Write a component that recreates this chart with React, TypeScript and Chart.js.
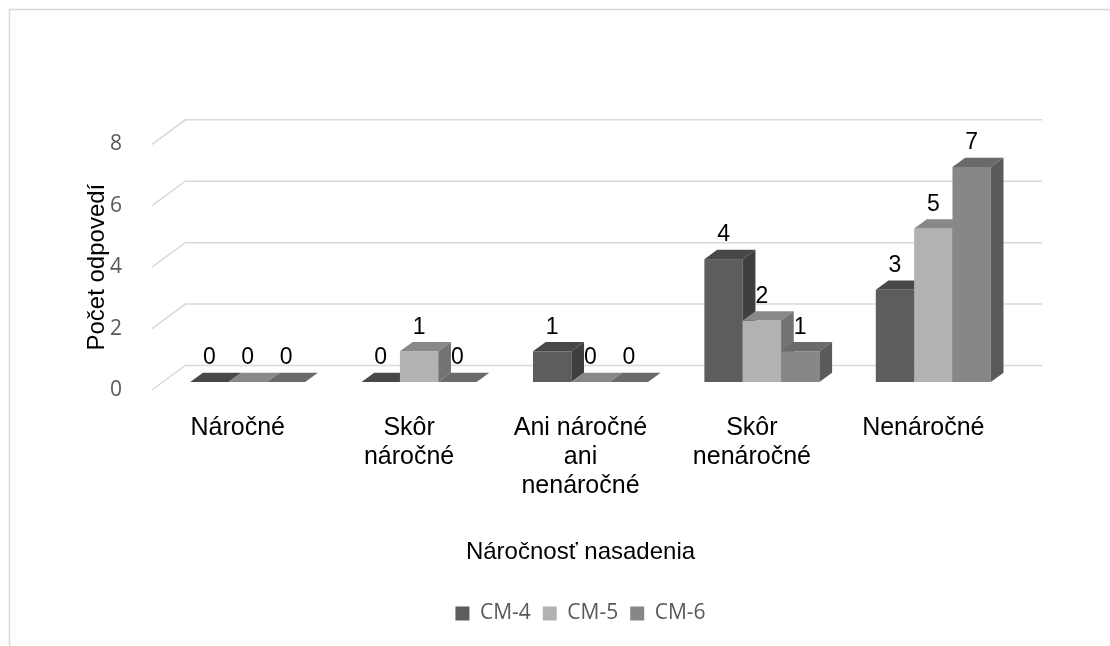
import React, { useEffect, useRef } from "react";
import { Chart, registerables } from "chart.js";

Chart.register(...registerables);

// ---- data ----
const categories: string[][] = [
  ["Náročné"],
  ["Skôr", "náročné"],
  ["Ani náročné", "ani", "nenáročné"],
  ["Skôr", "nenáročné"],
  ["Nenáročné"],
];
const seriesNames = ["CM-4", "CM-5", "CM-6"];
const cm4Values = [0, 0, 1, 4, 3];
const cm5Values = [0, 1, 0, 2, 5];
const cm6Values = [0, 0, 0, 1, 7];
const yMin = 0;
const yMax = 8;
const yStep = 2;
const xTitle = "Náročnosť nasadenia";
const yTitle = "Počet odpovedí";

// ---- styles ----
const frontColors = ["#5d5d5d", "#b2b2b2", "#878787"];
const topColors = ["#484848", "#888888", "#6a6a6a"];
const sideColors = ["#3f3f3f", "#737373", "#5a5a5a"];
const gridColor = "#d9d9d9";
const ARIAL = "'Liberation Sans', Arial, sans-serif";
const CALIBRI = "'Open Sans', 'Noto Sans', sans-serif";

const WALL_DX = 33.3;
const WALL_DY = -24.5;
const BAR_OFF_X = 10;
const BAR_OFF_Y = -8;
const BAR_DX = 12.7;
const BAR_DY = -9.3;

const threeDPlugin = {
  id: "threeD",
  beforeDraw(chart: any) {
    const ctx = chart.ctx;
    ctx.save();
    ctx.strokeStyle = gridColor;
    ctx.lineWidth = 1.5;
    ctx.beginPath();
    ctx.moveTo(9.5, chart.height + 5);
    ctx.lineTo(9.5, 9.5);
    ctx.lineTo(chart.width + 5, 9.5);
    ctx.stroke();
    ctx.restore();
  },
  beforeDatasetsDraw(chart: any) {
    const { ctx, chartArea, scales } = chart;
    const y = scales.y;
    ctx.save();
    // 3D gridlines (side wall diagonal + back wall)
    ctx.strokeStyle = gridColor;
    ctx.lineWidth = 1.5;
    y.ticks.forEach((t: any) => {
      const py = y.getPixelForValue(t.value);
      ctx.beginPath();
      ctx.moveTo(chartArea.left, py);
      ctx.lineTo(chartArea.left + WALL_DX, py + WALL_DY);
      ctx.lineTo(chartArea.right + WALL_DX, py + WALL_DY);
      ctx.stroke();
    });

    const metas = chart.getSortedVisibleDatasetMetas();
    const n = chart.data.labels.length;
    const labels: { x: number; y: number; text: string }[] = [];
    for (let i = 0; i < n; i++) {
      metas.forEach((meta: any) => {
        const el = meta.data[i];
        if (!el) return;
        const p = el.getProps(["x", "y", "base", "width"], true);
        const di = meta.index;
        const x0 = p.x - p.width / 2 + BAR_OFF_X;
        const x1 = p.x + p.width / 2 + BAR_OFF_X;
        const yt = Math.min(p.y, p.base) + BAR_OFF_Y;
        const yb = Math.max(p.y, p.base) + BAR_OFF_Y;
        // front
        ctx.fillStyle = frontColors[di];
        ctx.fillRect(x0, yt, x1 - x0, yb - yt);
        // top
        ctx.fillStyle = topColors[di];
        ctx.beginPath();
        ctx.moveTo(x0, yt);
        ctx.lineTo(x1, yt);
        ctx.lineTo(x1 + BAR_DX, yt + BAR_DY);
        ctx.lineTo(x0 + BAR_DX, yt + BAR_DY);
        ctx.closePath();
        ctx.fill();
        // side
        ctx.fillStyle = sideColors[di];
        ctx.beginPath();
        ctx.moveTo(x1, yt);
        ctx.lineTo(x1 + BAR_DX, yt + BAR_DY);
        ctx.lineTo(x1 + BAR_DX, yb + BAR_DY);
        ctx.lineTo(x1, yb);
        ctx.closePath();
        ctx.fill();
        const v = chart.data.datasets[di].data[i];
        labels.push({ x: (x0 + x1) / 2, y: yt - 24, text: String(v) });
      });
    }
    ctx.fillStyle = "#000000";
    ctx.font = `23px ${ARIAL}`;
    ctx.textAlign = "center";
    ctx.textBaseline = "middle";
    labels.forEach((l) => ctx.fillText(l.text, l.x, l.y));
    ctx.restore();
    return false;
  },
};

export default function App() {
  const canvasRef = useRef<HTMLCanvasElement | null>(null);

  useEffect(() => {
    if (!canvasRef.current) return;
    const seriesValues = [cm4Values, cm5Values, cm6Values];
    const chart = new Chart(canvasRef.current, {
      type: "bar",
      data: {
        labels: categories,
        datasets: seriesNames.map((name, i) => ({
          label: name,
          data: seriesValues[i],
          backgroundColor: frontColors[i],
          borderWidth: 0,
          categoryPercentage: 0.671,
          barPercentage: 1,
        })),
      },
      options: {
        animation: false,
        responsive: false,
        devicePixelRatio: 1,
        layout: { padding: { left: 0, right: 101, top: 144.3, bottom: 12 } },
        plugins: {
          tooltip: { enabled: false },
          legend: {
            display: true,
            position: "bottom",
            fullSize: false,
            labels: {
              boxWidth: 14,
              boxHeight: 14,
              padding: 12,
              color: "#595959",
              font: { family: CALIBRI, size: 21 },
            },
          },
        },
        scales: {
          x: {
            grid: { display: false },
            border: { display: false },
            ticks: {
              color: "#000000",
              font: { family: ARIAL, size: 25, lineHeight: 1.16 },
              padding: 15.5,
              maxRotation: 0,
              minRotation: 0,
              autoSkip: false,
            },
            title: {
              display: true,
              text: xTitle,
              color: "#000000",
              font: { family: ARIAL, size: 24 },
              padding: { top: 0, bottom: 24.6 },
            },
            afterFit: (scale: any) => {
              scale.height = 201;
            },
          },
          y: {
            min: yMin,
            max: yMax,
            grid: { display: false },
            border: { display: false },
            ticks: {
              stepSize: yStep,
              color: "#595959",
              font: { family: CALIBRI, size: 21 },
              padding: 22,
            },
            title: {
              display: true,
              text: yTitle,
              color: "#000000",
              font: { family: ARIAL, size: 24 },
              padding: { top: 82.6, bottom: 0 },
            },
            afterFit: (scale: any) => {
              scale.width = 152;
            },
          },
        },
      },
      plugins: [threeDPlugin],
    } as any);
    return () => chart.destroy();
  }, []);

  return (
    <div style={{ position: "fixed", left: 0, top: 0, width: 1110, height: 646, background: "#ffffff" }}>
      <canvas ref={canvasRef} width={1110} height={646} style={{ display: "block" }} />
    </div>
  );
}
